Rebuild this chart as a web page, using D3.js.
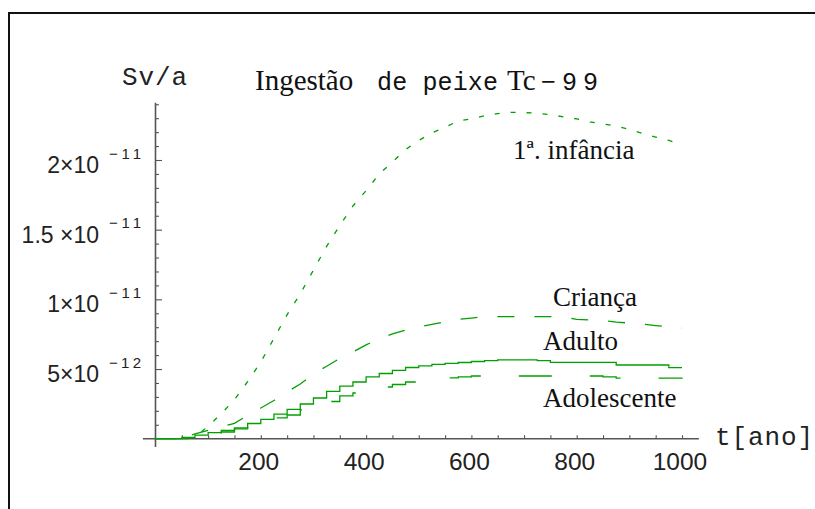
<!DOCTYPE html>
<html><head><meta charset="utf-8">
<script src="https://cdn.jsdelivr.net/npm/d3@7"></script>
<style>body{margin:0;background:#fff;} svg{display:block;}</style>
</head><body>
<svg id="c" width="815" height="509"></svg>
<script>
// ---- data (values in units of 1e-12 Sv/a) ----
const years = [0,25,50,75,100,125,150,175,200,225,250,275,300,325,350,375,400,425,450,475,500,
  525,550,575,600,625,650,675,700,725,750,775,800,825,850,875,900,925,950,975,1000];
const infancia = [0,0,0,0.1,0.9,1.8,2.8,4.1,5.5,7.2,8.9,10.4,12.1,13.8,15.3,16.7,17.8,19.0,19.85,20.75,21.4,
  21.95,22.35,22.8,22.95,23.17,23.33,23.42,23.40,23.36,23.25,23.1,22.95,22.73,22.59,22.43,22.2,21.9,21.65,21.4,21.1];
const crianca = [0,0,0,0.35,0.6,0.85,1.1,1.67,2.2,2.74,3.35,3.93,4.65,5.2,5.76,6.22,6.73,7.19,7.52,7.80,8.02,
  8.2,8.38,8.57,8.66,8.76,8.76,8.76,8.76,8.76,8.76,8.74,8.56,8.52,8.49,8.36,8.3,8.23,8.12,8.02,7.93];
const adulto = [0,0,0.1,0.25,0.43,0.59,0.78,1.09,1.38,1.77,2.10,2.49,2.92,3.39,3.78,4.07,4.43,4.68,4.90,5.11,5.22,
  5.33,5.41,5.47,5.54,5.61,5.65,5.65,5.65,5.61,5.48,5.48,5.48,5.48,5.48,5.29,5.29,5.29,5.29,5.10,5.10];
const adolescente = [0,0,0,0.19,0.27,0.48,0.70,0.95,1.13,1.49,1.70,2.06,2.35,2.67,3.07,3.28,3.47,3.71,3.89,4.07,4.32,
  4.34,4.36,4.43,4.50,4.50,4.50,4.50,4.50,4.50,4.50,4.50,4.50,4.50,4.43,4.34,4.34,4.34,4.34,4.34,4.30];
const seriesNames = ["1ª. infância","Criança","Adulto","Adolescente"];
const xTickValues = [200,400,600,800,1000];
const xTickLabels = ["200","400","600","800","1000"];
const yTickValues = [5,10,15,20];
const yTickMantissa = ["5×10","1×10","1.5 ×10","2×10"];
const yTickExponent = ["−12","−11","−11","−11"];
const titleParts = ["Ingestão","de peixe","Tc","−99"];
const yAxisLabel = "Sv/a";
const xAxisLabel = "t[ano]";

// ---- drawing ----
const svg = d3.select("#c");
const x = d3.scaleLinear().domain([0,1000]).range([155.5,682]);
const y = d3.scaleLinear().domain([0,20]).range([438.7,160]);
const axisColor = "#555";
const green = "#00a000";
const sans = "'Liberation Sans', Arial, sans-serif";
const mono = "'Liberation Mono', 'DejaVu Sans Mono', monospace";
const serif = "'Liberation Serif', 'Times New Roman', serif";

// frame
svg.append("path").attr("d","M9,509V13H815").attr("fill","none")
  .attr("stroke","#111").attr("stroke-width",2);

// x axis
const xa = svg.append("g").attr("transform",`translate(0,${y(0)})`);
xa.call(d3.axisBottom(x).tickValues(d3.range(50,1001,50)).tickSize(-3.5).tickFormat(""));
xa.select(".domain").remove();
xa.selectAll(".tick line").attr("stroke",axisColor).attr("stroke-width",1.1);
xa.append("line").attr("x1",x(-24)).attr("x2",x(1032)).attr("y1",0).attr("y2",0)
  .attr("stroke",axisColor).attr("stroke-width",1.6);
xa.selectAll("text.xl").data(xTickValues).join("text").attr("class","xl")
  .attr("x",d=>x(d)-2).attr("y",31.5).attr("text-anchor","middle")
  .attr("font-family",sans).attr("font-size",24.5).attr("fill","#222")
  .text((d,i)=>xTickLabels[i]);

// y axis
const ya = svg.append("g").attr("transform",`translate(${x(0)},0)`);
const yMinor = d3.range(1,25).filter(v=>v%5!==0);
ya.call(d3.axisRight(y).tickValues(yMinor).tickSize(3.5).tickFormat(""));
ya.select(".domain").remove();
const yMaj = svg.append("g").attr("transform",`translate(${x(0)},0)`);
yMaj.call(d3.axisRight(y).tickValues(yTickValues).tickSize(6.5).tickFormat(""));
yMaj.select(".domain").remove();
svg.selectAll(".tick line").attr("stroke",axisColor).attr("stroke-width",1.1);
ya.append("line").attr("x1",0).attr("x2",0).attr("y1",y(-0.6)).attr("y2",y(24.1))
  .attr("stroke",axisColor).attr("stroke-width",1.6);

const yl = svg.append("g");
yTickValues.forEach((v,i)=>{
  yl.append("text").attr("x",99).attr("y",y(v)+13).attr("text-anchor","end")
    .attr("font-family",sans).attr("font-size",23).attr("fill","#222")
    .text(yTickMantissa[i]);
  yl.append("text").attr("x",109).attr("y",y(v)-1.5)
    .attr("font-family",sans).attr("font-size",15).attr("fill","#222")
    .attr("textLength",32).attr("lengthAdjust","spacing")
    .text(yTickExponent[i]);
});

// axis labels
svg.append("text").attr("x",122).attr("y",85).attr("font-family",mono).attr("font-size",26)
  .attr("fill","#222").attr("textLength",65).attr("lengthAdjust","spacing").text(yAxisLabel);
svg.append("text").attr("x",715).attr("y",445).attr("font-family",mono).attr("font-size",26)
  .attr("fill","#222").attr("textLength",98).attr("lengthAdjust","spacing").text(xAxisLabel);

// title
svg.append("text").attr("x",255).attr("y",90).attr("font-family",serif).attr("font-size",29)
  .attr("fill","#111").text(titleParts[0]);
svg.append("text").attr("x",377).attr("y",90).attr("font-family",mono).attr("font-size",25)
  .attr("fill","#111").attr("textLength",121).attr("lengthAdjust","spacing").text(titleParts[1]);
svg.append("text").attr("x",507).attr("y",90).attr("font-family",serif).attr("font-size",29)
  .attr("fill","#111").text(titleParts[2]);
svg.append("text").attr("x",541).attr("y",90).attr("font-family",mono).attr("font-size",25)
  .attr("fill","#111").attr("textLength",57).attr("lengthAdjust","spacing").text(titleParts[3]);

// curves
const series = [
  {vals: infancia, dash: "5,11", curve: d3.curveLinear},
  {vals: crianca, dash: "17,20", curve: d3.curveLinear},
  {vals: adulto, dash: null, curve: d3.curveStepAfter},
  {vals: adolescente, dash: "33,38", curve: d3.curveStepAfter}
];
series.forEach(s=>{
  const line = d3.line().x((d,i)=>x(years[i])).y(d=>y(d)).curve(s.curve);
  svg.append("path").datum(s.vals).attr("d",line).attr("fill","none")
    .attr("stroke",green).attr("stroke-width",1.3)
    .attr("stroke-dasharray",s.dash);
});

// curve labels
const labelPos = [[513,159],[553,306],[543,350],[543,407]];
seriesNames.forEach((n,i)=>{
  svg.append("text").attr("x",labelPos[i][0]).attr("y",labelPos[i][1])
    .attr("font-family",serif).attr("font-size",27).attr("fill","#111").text(n);
});
</script>
</body></html>
